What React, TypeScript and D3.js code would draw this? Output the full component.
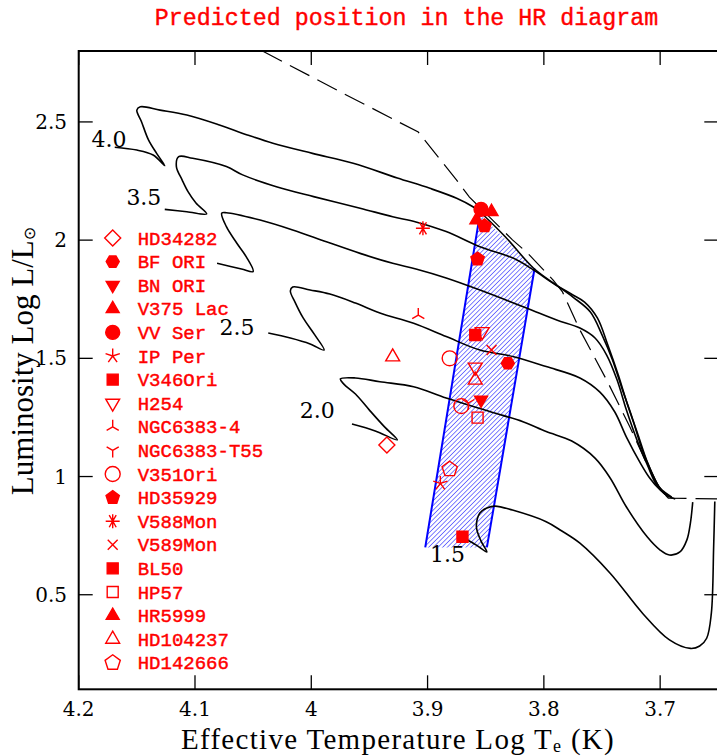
import * as d3 from 'd3'

const RED = '#ff0000'
const BLUE = '#0000ff'

// evolutionary tracks, [log Teff, log L/Lsun]
const track40: [number, number][] = [
  [4.169, 2.393], [4.150, 2.381], [4.136, 2.360], [4.126, 2.315], [4.133, 2.367], [4.140, 2.424],
  [4.146, 2.501], [4.150, 2.550], [4.147, 2.564], [4.130, 2.550], [4.107, 2.529], [4.079, 2.487],
  [4.055, 2.445], [4.033, 2.410], [3.999, 2.367], [3.964, 2.325], [3.926, 2.263], [3.898, 2.219],
  [3.875, 2.177], [3.861, 2.141], [3.855, 2.119], [3.833, 2.013], [3.809, 1.882], [3.792, 1.819],
  [3.775, 1.759], [3.760, 1.696], [3.750, 1.599], [3.741, 1.493], [3.733, 1.375], [3.724, 1.248],
  [3.716, 1.121], [3.707, 1.015], [3.700, 0.951], [3.690, 0.913],
]
const track35: [number, number][] = [
  [4.126, 2.130], [4.107, 2.120], [4.090, 2.111], [4.099, 2.156], [4.106, 2.205], [4.111, 2.254],
  [4.116, 2.311], [4.114, 2.353], [4.102, 2.346], [4.073, 2.311], [4.059, 2.276], [4.030, 2.226],
  [3.998, 2.184], [3.958, 2.135], [3.930, 2.099], [3.910, 2.077], [3.884, 2.036], [3.855, 1.972],
  [3.826, 1.923], [3.809, 1.874], [3.792, 1.817], [3.775, 1.768], [3.765, 1.738], [3.754, 1.671],
  [3.745, 1.556], [3.736, 1.429], [3.728, 1.303], [3.719, 1.176], [3.711, 1.061], [3.703, 0.973],
  [3.696, 0.926], [3.687, 0.905],
]
const track30: [number, number][] = [
  [4.081, 1.902], [4.060, 1.878], [4.050, 1.867], [4.056, 1.930], [4.064, 1.987], [4.073, 2.057],
  [4.077, 2.114], [4.073, 2.116], [4.044, 2.085], [4.016, 2.043], [3.987, 1.993], [3.958, 1.944],
  [3.930, 1.902], [3.910, 1.878], [3.884, 1.840], [3.855, 1.789], [3.815, 1.713], [3.789, 1.662],
  [3.769, 1.628], [3.756, 1.586], [3.746, 1.514], [3.737, 1.408], [3.729, 1.281], [3.720, 1.155],
  [3.711, 1.049], [3.703, 0.964], [3.694, 0.918],
]
const track25: [number, number][] = [
  [4.037, 1.607], [4.018, 1.586], [4.001, 1.561], [3.989, 1.535], [3.997, 1.599], [4.007, 1.671],
  [4.014, 1.738], [4.018, 1.785], [4.016, 1.802], [4.001, 1.789], [3.984, 1.772], [3.962, 1.734],
  [3.941, 1.692], [3.912, 1.648], [3.884, 1.592], [3.855, 1.535], [3.826, 1.507], [3.798, 1.465],
  [3.769, 1.417], [3.752, 1.358], [3.739, 1.273], [3.729, 1.167], [3.717, 1.057], [3.709, 0.994],
  [3.700, 0.943], [3.692, 0.913],
]
const track20: [number, number][] = [
  [3.965, 1.222], [3.945, 1.193], [3.926, 1.155], [3.937, 1.210], [3.950, 1.281], [3.962, 1.349],
  [3.972, 1.391], [3.975, 1.413], [3.962, 1.417], [3.941, 1.401], [3.912, 1.380], [3.884, 1.332],
  [3.846, 1.274], [3.818, 1.232], [3.798, 1.190], [3.776, 1.150], [3.756, 1.078], [3.743, 0.994],
  [3.729, 0.871], [3.711, 0.744], [3.700, 0.689], [3.692, 0.668], [3.683, 0.681], [3.677, 0.732],
  [3.674, 0.803], [3.672, 0.892],
]
const track15: [number, number][] = [
  [3.867, 0.736], [3.858, 0.710], [3.849, 0.681], [3.854, 0.727], [3.858, 0.787], [3.855, 0.846],
  [3.849, 0.867], [3.842, 0.875], [3.827, 0.858], [3.798, 0.809], [3.786, 0.774], [3.769, 0.718],
  [3.743, 0.591], [3.715, 0.421], [3.692, 0.309], [3.674, 0.273], [3.666, 0.283], [3.660, 0.316],
  [3.656, 0.421], [3.654, 0.703], [3.653, 0.894],
]
const tracks = [track40, track35, track30, track25, track20, track15]

// mass labels placed at [log Teff, log L] of their left baseline
const massLabels: [string, number, number][] = [
  ['4.0', 4.189, 2.394], ['3.5', 4.159, 2.149], ['2.5', 4.079, 1.599], ['2.0', 4.010, 1.248], ['1.5', 3.898, 0.638],
]

const birthline: [number, number][] = [
  [4.042, 2.800], [3.975, 2.627], [3.908, 2.457], [3.875, 2.254], [3.864, 2.182], [3.827, 2.001],
  [3.815, 1.950], [3.792, 1.831], [3.784, 1.781], [3.769, 1.620], [3.746, 1.408], [3.726, 1.210],
  [3.713, 1.070], [3.700, 0.943], [3.693, 0.909], [3.650, 0.905],
]

// predicted instability band
const bandLeft: [number, number][] = [[3.855, 2.11], [3.902, 0.70]]
const bandRight: [number, number][] = [[3.808, 1.88], [3.849, 0.70]]

const legendNames = ['HD34282', 'BF ORI', 'BN ORI', 'V375 Lac', 'VV Ser', 'IP Per', 'V346Ori', 'H254',
  'NGC6383-4', 'NGC6383-T55', 'V351Ori', 'HD35929', 'V588Mon', 'V589Mon', 'BL50', 'HP57', 'HR5999',
  'HD104237', 'HD142666']
const legendMarkers = ['diamond', 'hexFill', 'triDownFill', 'triUpFill', 'circleFill', 'star5', 'squareFill',
  'triDown', 'branchUp', 'branchDown', 'circle', 'pentFill', 'asterisk', 'cross', 'squareFill', 'square',
  'triUpFill', 'triUp', 'pent']

// stars: name, log Teff, log L
const stars: [string, number, number][] = [
  ['HD34282', 3.935, 1.133],
  ['BF ORI', 3.831, 1.479],
  ['BN ORI', 3.854, 1.324],
  ['V375 Lac', 3.858, 2.085],
  ['VV Ser', 3.854, 2.130],
  ['IP Per', 3.889, 0.971],
  ['H254', 3.853, 1.613],
  ['V346Ori', 3.859, 1.599],
  ['H254', 3.859, 1.463],
  ['HD104237', 3.859, 1.408],
  ['NGC6383-4', 3.908, 1.683],
  ['NGC6383-T55', 3.865, 1.311],
  ['V351Ori', 3.881, 1.500],
  ['V351Ori', 3.871, 1.298],
  ['HD35929', 3.857, 1.920],
  ['HD35929', 3.851, 2.060],
  ['V588Mon', 3.904, 2.050],
  ['V589Mon', 3.845, 1.535],
  ['BL50', 3.870, 0.745],
  ['HP57', 3.857, 1.249],
  ['HR5999', 3.845, 2.120],
  ['HD104237', 3.930, 1.506],
  ['HD142666', 3.881, 1.031],
]

const xTicks = [4.2, 4.1, 4.0, 3.9, 3.8, 3.7]
const xTickLabels = ['4.2', '4.1', '4', '3.9', '3.8', '3.7']
const yTicks = [0.5, 1, 1.5, 2, 2.5]
const yTickLabels = ['0.5', '1', '1.5', '2', '2.5']

const poly = (n: number, r: number, start: number) =>
  'M' + d3.range(n).map(i => {
    const a = start + (i * 2 * Math.PI) / n
    return `${(r * Math.cos(a)).toFixed(2)},${(r * Math.sin(a)).toFixed(2)}`
  }).join('L') + 'Z'

const arms = (angles: number[], r: number) =>
  angles.map(deg => {
    const a = (deg * Math.PI) / 180
    return `M0,0L${(r * Math.cos(a)).toFixed(2)},${(r * Math.sin(a)).toFixed(2)}`
  }).join('')

const markerPath = (kind: string): [string, boolean] => {
  switch (kind) {
    case 'diamond': return [poly(4, 8, -Math.PI / 2), false]
    case 'hexFill': return [poly(6, 6.5, 0), true]
    case 'triDownFill': return [poly(3, 7.5, Math.PI / 2), true]
    case 'triUpFill': return [poly(3, 7.5, -Math.PI / 2), true]
    case 'triDown': return [poly(3, 8, Math.PI / 2), false]
    case 'triUp': return [poly(3, 8, -Math.PI / 2), false]
    case 'circleFill': return [d3.symbol(d3.symbolCircle, Math.PI * 49)()!, true]
    case 'circle': return [d3.symbol(d3.symbolCircle, Math.PI * 56)()!, false]
    case 'squareFill': return ['M-5.5,-5.5H5.5V5.5H-5.5Z', true]
    case 'square': return ['M-5.5,-5.5H5.5V5.5H-5.5Z', false]
    case 'pentFill': return [poly(5, 7, -Math.PI / 2), true]
    case 'pent': return [poly(5, 8, -Math.PI / 2), false]
    case 'star5': return [arms([-90, -18, 54, 126, 198], 7.5), false]
    case 'asterisk': return [arms([0, 60, 120, 180, 240, 300, 90, 270], 7), false]
    case 'cross': return [arms([45, 135, 225, 315], 7), false]
    case 'branchUp': return [arms([-90, 30, 150], 7), false]
    case 'branchDown': return [arms([90, -30, -150], 7), false]
    default: return ['', false]
  }
}

const Marker = ({ kind, cx, cy }: { kind: string; cx: number; cy: number }) => {
  const [d, filled] = markerPath(kind)
  return (
    <path
      d={d}
      transform={`translate(${cx},${cy})`}
      fill={filled ? RED : 'none'}
      stroke={RED}
      strokeWidth={1.4}
    />
  )
}

export default function App() {
  const x = d3.scaleLinear().domain([4.2, 3.65]).range([78.7, 718.3])
  const y = d3.scaleLinear().domain([0.1, 2.8]).range([689.3, 51])
  const [x0, x1] = x.range()
  const [y0, y1] = y.range()

  const smooth = d3.line<[number, number]>().x(d => x(d[0])).y(d => y(d[1])).curve(d3.curveCatmullRom.alpha(0.5))
  const straight = d3.line<[number, number]>().x(d => x(d[0])).y(d => y(d[1]))
  const band = [...bandLeft, ...bandRight.slice().reverse()]

  const markerOf = (name: string) => legendMarkers[legendNames.indexOf(name)]

  const serif = '"DejaVu Serif", serif'
  const times = '"Liberation Serif", "Times New Roman", serif'
  const mono = '"Liberation Mono", "Courier New", monospace'

  return (
    <svg width={717} height={756} style={{ position: 'absolute', left: 0, top: 0, background: '#fff' }}>
      <defs>
        <pattern id="hatch" patternUnits="userSpaceOnUse" width={3.3} height={3.3} patternTransform="rotate(45)">
          <line x1={0} y1={0} x2={0} y2={3.3} stroke={BLUE} strokeWidth={1} />
        </pattern>
        <clipPath id="plot">
          <rect x={x0} y={y1} width={x1 - x0} height={y0 - y1} />
        </clipPath>
      </defs>

      <text x={406.5} y={25} textAnchor="middle" fill={RED} stroke={RED} strokeWidth={0.4}
        fontFamily={mono} fontSize={23.3}>
        Predicted position in the HR diagram
      </text>

      <g clipPath="url(#plot)">
        <path d={straight(band)!} fill="url(#hatch)" stroke="none" />
        <path d={straight(bandLeft)!} fill="none" stroke={BLUE} strokeWidth={2} />
        <path d={straight(bandRight)!} fill="none" stroke={BLUE} strokeWidth={2} />
        {tracks.map((t, i) => (
          <path key={i} d={smooth(t)!} fill="none" stroke="#000" strokeWidth={1.6} />
        ))}
        <path d={straight(birthline)!} fill="none" stroke="#000" strokeWidth={1.2} strokeDasharray="22 9" />
      </g>

      {massLabels.map(([m, t, l]) => (
        <text key={m} x={x(t)} y={y(l)} fontFamily={serif} fontSize={22} fill="#000">{m}</text>
      ))}

      {stars.map(([name, t, l], i) => (
        <Marker key={i} kind={markerOf(name)} cx={x(t)} cy={y(l)} />
      ))}

      {legendNames.map((n, i) => (
        <g key={n} transform={`translate(112.7,${238 + i * 23.6})`}>
          <Marker kind={legendMarkers[i]} cx={0} cy={0} />
          <text x={25} y={6.5} fill={RED} stroke={RED} strokeWidth={0.45} fontFamily={mono} fontSize={19}>{n}</text>
        </g>
      ))}

      <rect x={x0} y={y1} width={x1 - x0} height={y0 - y1} fill="none" stroke="#000" strokeWidth={2} />
      {xTicks.map(t => (
        <g key={t}>
          <line x1={x(t)} x2={x(t)} y1={y0} y2={y0 - 14} stroke="#000" strokeWidth={1.3} />
          <line x1={x(t)} x2={x(t)} y1={y1} y2={y1 + 14} stroke="#000" strokeWidth={1.3} />
        </g>
      ))}
      {yTicks.map(l => (
        <g key={l}>
          <line x1={x0} x2={x0 + 14} y1={y(l)} y2={y(l)} stroke="#000" strokeWidth={1.3} />
          <line x1={x1} x2={x1 - 14} y1={y(l)} y2={y(l)} stroke="#000" strokeWidth={1.3} />
        </g>
      ))}
      {xTicks.map((t, i) => (
        <text key={t} x={x(t)} y={716} textAnchor="middle" fontFamily={serif} fontSize={20}>{xTickLabels[i]}</text>
      ))}
      {yTicks.map((l, i) => (
        <text key={l} x={67} y={y(l) + 7} textAnchor="end" fontFamily={serif} fontSize={20}>{yTickLabels[i]}</text>
      ))}

      <text x={398} y={749} textAnchor="middle" fontFamily={times} fontSize={29} letterSpacing={1.3}>
        Effective Temperature Log T<tspan fontSize={18} dy={3}>e</tspan><tspan dy={-3}> (K)</tspan>
      </text>
      <text transform="translate(33,361) rotate(-90)" textAnchor="middle" fontFamily={times} fontSize={31}>
        Luminosity Log L/L<tspan fontFamily='"DejaVu Sans", sans-serif' fontSize={16} dy={2}>⊙</tspan>
      </text>
    </svg>
  )
}
